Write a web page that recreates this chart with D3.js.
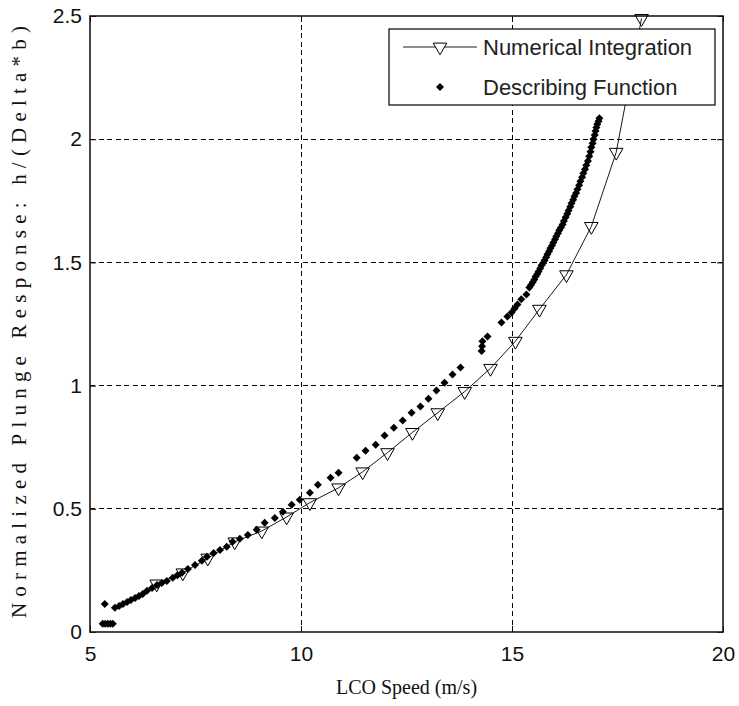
<!DOCTYPE html>
<html>
<head>
<meta charset="utf-8">
<script src="https://cdn.jsdelivr.net/npm/d3@7"></script>
<style>
  html, body { margin: 0; padding: 0; background: #fff; }
  svg { display: block; }
</style>
</head>
<body>
<svg id="chart" width="739" height="706"></svg>
<script>
// Numerical integration results (LCO speed in m/s, normalized plunge response)
const numSpeed = [6.58, 7.20, 7.79, 8.43, 9.07, 9.66, 10.21, 10.89, 11.46, 12.05,
                  12.64, 13.24, 13.88, 14.49, 15.08, 15.65, 16.29, 16.88, 17.47, 18.07];
const numResp  = [0.195, 0.240, 0.300, 0.366, 0.410, 0.467, 0.525, 0.585, 0.650, 0.728,
                  0.810, 0.890, 0.976, 1.070, 1.180, 1.310, 1.450, 1.646, 1.947, 2.490];

// Describing function predictions
const dfSpeed = [5.30, 5.36, 5.42, 5.48, 5.54, 5.35,
                 5.59, 5.69, 5.78, 5.88, 5.97, 6.07, 6.16, 6.25, 6.35, 6.47,
                 6.59, 6.70, 6.82, 6.96, 7.07, 7.18, 7.32, 7.49, 7.65, 7.77, 7.93,
                 8.08, 8.24, 8.38, 8.55, 8.74, 8.95, 9.14, 9.38, 9.57, 9.78,
                 9.97, 10.21, 10.40, 10.70, 10.89, 11.32, 11.53, 11.77, 11.98, 12.20,
                 12.41, 12.62, 12.83, 13.02, 13.21, 13.40, 13.59, 13.78,
                 14.28, 14.29, 14.30, 14.42, 14.75, 14.89, 14.99, 15.06, 15.13, 15.22, 15.34,
                 15.41, 15.45, 15.49, 15.53, 15.56, 15.60, 15.63, 15.67, 15.70, 15.74, 15.77,
                 15.81, 15.84, 15.88, 15.91, 15.95, 15.98, 16.02, 16.05, 16.09,
                 16.12, 16.16, 16.20, 16.23, 16.27, 16.31, 16.34, 16.38, 16.41, 16.45,
                 16.48, 16.52, 16.55, 16.59, 16.62, 16.66, 16.69, 16.73, 16.76, 16.80,
                 16.83, 16.86, 16.88, 16.91, 16.93, 16.96, 16.98, 17.00, 17.02, 17.05, 17.07];
const dfResp  = [0.033, 0.033, 0.033, 0.033, 0.033, 0.114,
                 0.098, 0.106, 0.114, 0.122, 0.130, 0.138, 0.146, 0.154, 0.167, 0.179,
                 0.191, 0.199, 0.207, 0.220, 0.230, 0.240, 0.256, 0.272, 0.289, 0.305, 0.321,
                 0.333, 0.346, 0.366, 0.378, 0.394, 0.415, 0.443, 0.463, 0.488, 0.516,
                 0.537, 0.565, 0.598, 0.626, 0.646, 0.707, 0.736, 0.760, 0.797, 0.829,
                 0.858, 0.890, 0.915, 0.947, 0.980, 1.012, 1.045, 1.073,
                 1.140, 1.160, 1.180, 1.199, 1.256, 1.280, 1.297, 1.313, 1.329, 1.350, 1.370,
                 1.398, 1.408, 1.419, 1.431, 1.443, 1.453, 1.463, 1.476, 1.488, 1.498, 1.508,
                 1.521, 1.533, 1.545, 1.557, 1.569, 1.581, 1.594, 1.606, 1.618,
                 1.630, 1.642, 1.654, 1.668, 1.683, 1.697, 1.711, 1.726, 1.740, 1.754,
                 1.768, 1.782, 1.797, 1.813, 1.829, 1.846, 1.862, 1.878, 1.894, 1.912,
                 1.931, 1.949, 1.967, 1.984, 2.000, 2.017, 2.033, 2.047, 2.061, 2.073, 2.085];

const xTicks = [5, 10, 15, 20];
const yTicks = [0, 0.5, 1, 1.5, 2, 2.5];
const seriesNames = ["Numerical Integration", "Describing Function"];
const xTitle = "LCO Speed (m/s)";
const yTitle = "Normalized Plunge Response: h/(Delta*b)";

const svg = d3.select("#chart");
const plot = { left: 90, right: 723, top: 16, bottom: 632 };

const x = d3.scaleLinear().domain([5, 20]).range([plot.left, plot.right]);
const y = d3.scaleLinear().domain([0, 2.5]).range([plot.bottom, plot.top]);

const sans = "'Liberation Sans', Arial, sans-serif";
const serif = "'Liberation Serif', 'Times New Roman', serif";

// dashed grid
const grid = svg.append("g").attr("stroke", "#000").attr("stroke-width", 1)
  .attr("stroke-dasharray", "5,3.5").attr("shape-rendering", "crispEdges");
grid.selectAll("line.gx").data(xTicks.filter(d => d > 5 && d < 20)).join("line")
  .attr("x1", d => x(d)).attr("x2", d => x(d))
  .attr("y1", plot.top).attr("y2", plot.bottom);
grid.selectAll("line.gy").data(yTicks.filter(d => d > 0 && d < 2.5)).join("line")
  .attr("class", "gy")
  .attr("y1", d => y(d)).attr("y2", d => y(d))
  .attr("x1", plot.left).attr("x2", plot.right);

// axes with inward ticks on all four sides
const tickLen = 6;
const fmt = d => String(d);
const axB = svg.append("g").attr("transform", `translate(0,${plot.bottom})`)
  .call(d3.axisBottom(x).tickValues(xTicks).tickSizeInner(-tickLen).tickSizeOuter(0).tickPadding(14).tickFormat(fmt));
const axT = svg.append("g").attr("transform", `translate(0,${plot.top})`)
  .call(d3.axisTop(x).tickValues(xTicks).tickSizeInner(-tickLen).tickSizeOuter(0).tickFormat(""));
const axL = svg.append("g").attr("transform", `translate(${plot.left},0)`)
  .call(d3.axisLeft(y).tickValues(yTicks).tickSizeInner(-tickLen).tickSizeOuter(0).tickPadding(8).tickFormat(fmt));
const axR = svg.append("g").attr("transform", `translate(${plot.right},0)`)
  .call(d3.axisRight(y).tickValues(yTicks).tickSizeInner(-tickLen).tickSizeOuter(0).tickFormat(""));
[axB, axT, axL, axR].forEach(a => {
  a.select(".domain").remove();
  a.selectAll(".tick line").attr("stroke", "#000").attr("stroke-width", 1);
  a.selectAll("text").attr("font-family", sans).attr("font-size", 21).attr("fill", "#111");
});
axB.selectAll("text").attr("dy", "0.71em");

// axes box
svg.append("rect")
  .attr("x", plot.left).attr("y", plot.top)
  .attr("width", plot.right - plot.left).attr("height", plot.bottom - plot.top)
  .attr("fill", "none").attr("stroke", "#1a1a1a").attr("stroke-width", 1.6);

// symbols
const triPath = d3.symbol(d3.symbolTriangle, 80)();
const diaPath = d3.symbol(d3.symbolSquare, 32)();

// numerical integration: thin line with open down-triangles
const numData = numSpeed.map((s, i) => ({ s, r: numResp[i] }));
svg.append("path").datum(numData)
  .attr("d", d3.line().x(d => x(d.s)).y(d => y(d.r)))
  .attr("fill", "none").attr("stroke", "#000").attr("stroke-width", 0.9);
svg.append("g").selectAll("path").data(numData).join("path")
  .attr("d", triPath)
  .attr("transform", d => `translate(${x(d.s)},${y(d.r)}) rotate(180)`)
  .attr("fill", "none").attr("stroke", "#000").attr("stroke-width", 1);

// describing function: filled diamonds
const dfData = dfSpeed.map((s, i) => ({ s, r: dfResp[i] }));
svg.append("g").selectAll("path").data(dfData).join("path")
  .attr("d", diaPath)
  .attr("transform", d => `translate(${x(d.s)},${y(d.r)}) rotate(45)`)
  .attr("fill", "#000");

// legend
const lg = svg.append("g");
lg.append("rect").attr("x", 389).attr("y", 29).attr("width", 326).attr("height", 76)
  .attr("fill", "#fff").attr("stroke", "#000").attr("stroke-width", 1.2);
lg.append("line").attr("x1", 403).attr("x2", 477).attr("y1", 47).attr("y2", 47)
  .attr("stroke", "#000").attr("stroke-width", 0.9);
lg.append("path").attr("d", triPath)
  .attr("transform", "translate(440,47) rotate(180)")
  .attr("fill", "#fff").attr("stroke", "#000").attr("stroke-width", 1);
lg.append("path").attr("d", diaPath)
  .attr("transform", "translate(440,87) rotate(45)").attr("fill", "#000");
lg.selectAll("text").data(seriesNames).join("text")
  .attr("x", 483).attr("y", (d, i) => 47 + i * 40).attr("dy", "0.35em")
  .attr("font-family", sans).attr("font-size", 22).attr("fill", "#222")
  .text(d => d);

// axis titles
svg.append("text")
  .attr("x", (plot.left + plot.right) / 2).attr("y", 694)
  .attr("text-anchor", "middle")
  .attr("font-family", serif).attr("font-size", 20).attr("fill", "#111")
  .text(xTitle);
svg.append("text")
  .attr("transform", `translate(26,${(plot.top + plot.bottom) / 2 - 2}) rotate(-90)`)
  .attr("text-anchor", "middle")
  .attr("font-family", serif).attr("font-size", 21).attr("fill", "#111")
  .attr("textLength", 592).attr("lengthAdjust", "spacing")
  .text(yTitle);
</script>
</body>
</html>
